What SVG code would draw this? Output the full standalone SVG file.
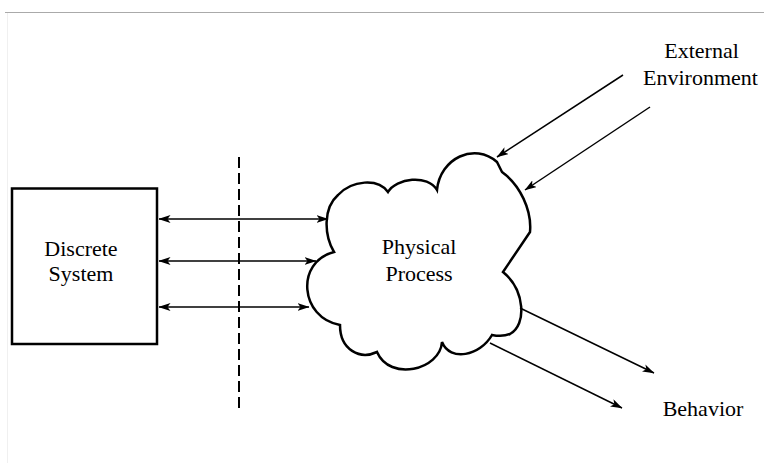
<svg xmlns="http://www.w3.org/2000/svg" width="764" height="463" viewBox="0 0 764 463">
  <style>
    .lbl { font-family: "Liberation Serif", "Times New Roman", serif; font-size: 22px; fill: #000; text-anchor: middle; }
    .edge { stroke: #000; stroke-width: 1.5; fill: none; }
    .shape { stroke: #000; stroke-width: 2.5; fill: #fff; }
  </style>
  <defs>
    <marker id="head" viewBox="0 0 12 8" refX="11.5" refY="4" markerWidth="12" markerHeight="8" markerUnits="userSpaceOnUse" orient="auto-start-reverse">
      <path d="M0,0 L12,4 L0,8 L3,4 Z" fill="#000"/>
    </marker>
  </defs>
  <rect width="764" height="463" fill="#fff"/>
  <!-- page frame -->
  <line x1="5" y1="12.5" x2="764" y2="12.5" stroke="#aaa" stroke-width="1"/>
  <line x1="7.5" y1="13" x2="7.5" y2="463" stroke="#f0f0f0" stroke-width="1"/>

  <g id="discrete-system">
    <rect class="shape" x="12" y="188.5" width="145" height="155.5"/>
    <text class="lbl" x="81" y="256">Discrete</text>
    <text class="lbl" x="81" y="281">System</text>
  </g>

  <g id="physical-process">
    <path class="shape" d="M334,252 C324,235 323,208 338,195 C352,180 378,178 388,192 C396,178 428,174 437,190 C440,158 475,142 497,162 L502,172 C520,185 532,210 530,232 L503,272 C525,290 527,325 510,334 C503,337 497,336 492,335 C480,356 450,362 442,342 C440,370 390,382 377,352 C360,360 340,350 340,325 C300,318 295,262 334,252 Z"/>
    <text class="lbl" x="419" y="254">Physical</text>
    <text class="lbl" x="419" y="281">Process</text>
  </g>

  <g id="external-environment">
    <text class="lbl" x="701.5" y="58">External</text>
    <text class="lbl" x="700.5" y="85">Environment</text>
  </g>

  <g id="behavior">
    <text class="lbl" x="703" y="416">Behavior</text>
  </g>

  <g id="boundary">
    <line x1="239" y1="157" x2="239" y2="413" stroke="#000" stroke-width="2" stroke-dasharray="11,5"/>
  </g>

  <g id="connectors">
    <line class="edge" x1="159" y1="219" x2="328" y2="219" marker-start="url(#head)" marker-end="url(#head)"/>
    <line class="edge" x1="159" y1="261" x2="316" y2="261" marker-start="url(#head)" marker-end="url(#head)"/>
    <line class="edge" x1="159" y1="307" x2="309" y2="307" marker-start="url(#head)" marker-end="url(#head)"/>
    <line class="edge" x1="623" y1="75" x2="497" y2="157" marker-end="url(#head)"/>
    <line class="edge" x1="650" y1="107" x2="525" y2="190" marker-end="url(#head)"/>
    <line class="edge" x1="520" y1="308" x2="654" y2="373" marker-end="url(#head)"/>
    <line class="edge" x1="490" y1="343" x2="622" y2="408" marker-end="url(#head)"/>
  </g>
</svg>
